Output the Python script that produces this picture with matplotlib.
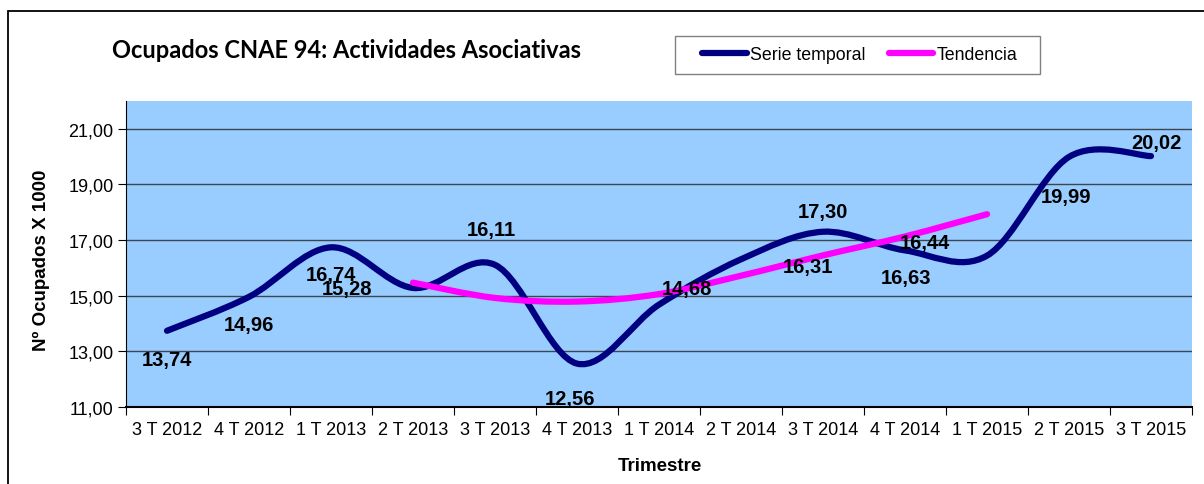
import matplotlib
matplotlib.use("Agg")
import matplotlib.pyplot as plt
from matplotlib.path import Path
from matplotlib.patches import PathPatch, Rectangle
from matplotlib.lines import Line2D
import numpy as np

# ---- data ----
categories = ["3 T 2012", "4 T 2012", "1 T 2013", "2 T 2013", "3 T 2013", "4 T 2013",
              "1 T 2014", "2 T 2014", "3 T 2014", "4 T 2014", "1 T 2015", "2 T 2015", "3 T 2015"]
serie = [13.74, 14.96, 16.74, 15.28, 16.11, 12.56, 14.68, 16.31, 17.30, 16.63, 16.44, 19.99, 20.02]
trend_start = 3  # "2 T 2013"
tendencia = [15.47, 14.92, 14.79, 15.06, 15.72, 16.45, 17.13, 17.93]
label_texts = ["13,74", "14,96", "16,74", "15,28", "16,11", "12,56", "14,68",
               "16,31", "17,30", "16,63", "16,44", "19,99", "20,02"]
# label anchor positions (category index, value units)
label_x = [0.0, 1.0, 2.0, 2.2, 3.96, 4.91, 6.34, 7.82, 8.0, 9.01, 9.24, 10.96, 12.07]
label_y = [12.69, 13.98, 15.75, 15.25, 17.37, 11.32, 15.25, 16.04, 18.01, 15.64, 16.90, 18.55, 20.50]
yticks = [11, 13, 15, 17, 19, 21]

NAVY = "#000080"
PINK = "#FF00FF"
BG = "#99CCFF"


def smooth_path(xs, ys):
    """Excel-like smoothed line as cubic Bezier path through the points."""
    pts = np.column_stack([xs, ys]).astype(float)
    n = len(pts)
    verts = [pts[0]]
    codes = [Path.MOVETO]
    for i in range(n - 1):
        p0 = pts[i - 1] if i > 0 else pts[i]
        p1 = pts[i]
        p2 = pts[i + 1]
        p3 = pts[i + 2] if i + 2 < n else pts[i + 1]
        c1 = p1 + (p2 - p0) / 6.0
        c2 = p2 - (p3 - p1) / 6.0
        verts += [c1, c2, p2]
        codes += [Path.CURVE4] * 3
    return Path(verts, codes)


W, H = 1204, 485
fig = plt.figure(figsize=(W / 100, H / 100), dpi=100)
fig.patch.set_facecolor("white")

# chart frame
fig.patches.append(Rectangle((8 / W, -0.2), 2.0, (H - 12) / H + 0.2, transform=fig.transFigure,
                             fill=False, edgecolor="black", linewidth=1.3))

L, R, T, B = 126, 1192, 102, 408
ax = fig.add_axes([L / W, 1 - B / H, (R - L) / W, (B - T) / H])
ax.set_facecolor(BG)
ax.set_xlim(-0.5, len(categories) - 0.5)
ax.set_ylim(11, 22)

x = np.arange(len(categories))
ax.add_patch(PathPatch(smooth_path(x, serie), fill=False, edgecolor=NAVY, linewidth=4.5,
                       capstyle="round", joinstyle="round", zorder=3))
xt = np.arange(trend_start, trend_start + len(tendencia))
ax.add_patch(PathPatch(smooth_path(xt, tendencia), fill=False, edgecolor=PINK, linewidth=4.5,
                       capstyle="round", joinstyle="round", zorder=4))

for tx, ty, s in zip(label_x, label_y, label_texts):
    ax.text(tx, ty, s, ha="center", va="center", fontsize=14.5, fontweight="bold",
            family="Liberation Sans", color="black", zorder=5)

# grid
ax.set_yticks(yticks)
ax.set_yticklabels([f"{v:.2f}".replace(".", ",") for v in yticks], family="Liberation Sans", fontsize=13)
ax.yaxis.grid(True, color="#3c4650", linewidth=1.0)
ax.set_axisbelow(True)

ax.set_xticks(np.arange(-0.5, len(categories), 1.0))
ax.set_xticklabels([])
ax.set_xticks(x, minor=True)
ax.set_xticklabels(categories, minor=True, family="Liberation Sans", fontsize=13)
ax.tick_params(axis="x", which="minor", length=0, pad=10)
ax.tick_params(axis="x", which="major", length=6, direction="out", color="black")
ax.tick_params(axis="y", length=6, direction="out", pad=3)

for s in ["top", "right"]:
    ax.spines[s].set_visible(False)
ax.spines["left"].set_color("black")
ax.spines["bottom"].set_color("black")
ax.spines["bottom"].set_linewidth(1.5)

ax.set_ylabel("Nº Ocupados X 1000", fontsize=13.5, fontweight="bold", family="Liberation Sans")
ax.yaxis.set_label_coords((50 - L) / (R - L), (B - 260) / (B - T))
ax.set_xlabel("Trimestre", fontsize=13.5, fontweight="bold", family="Liberation Sans")
ax.xaxis.set_label_coords((660 - L) / (R - L), (B - 458) / (B - T))

fig.text(347 / W, 1 - 50 / H, "Ocupados CNAE 94: Actividades Asociativas", ha="center", va="center",
         fontsize=17, fontweight="bold", family="Lato")

# legend frame drawn explicitly
fig.patches.append(Rectangle((675 / W, 1 - 75 / H), (1040 - 675) / W, 38 / H, transform=fig.transFigure,
                             fill=True, facecolor="white", edgecolor="#808080", linewidth=1.0))
handles = [Line2D([], [], color=NAVY, linewidth=4.5, solid_capstyle="round"),
           Line2D([], [], color=PINK, linewidth=4.5, solid_capstyle="round")]
leg = fig.legend(handles, ["Serie temporal", "Tendencia"], loc="center",
                 bbox_to_anchor=(860 / W, 1 - 56 / H), ncol=2, frameon=False,
                 prop={"family": "Liberation Sans", "size": 12.8}, handlelength=2.5,
                 handletextpad=0.2, columnspacing=1.3, borderpad=0.3, borderaxespad=0)

fig.savefig("out.png", dpi=100, facecolor="white")
